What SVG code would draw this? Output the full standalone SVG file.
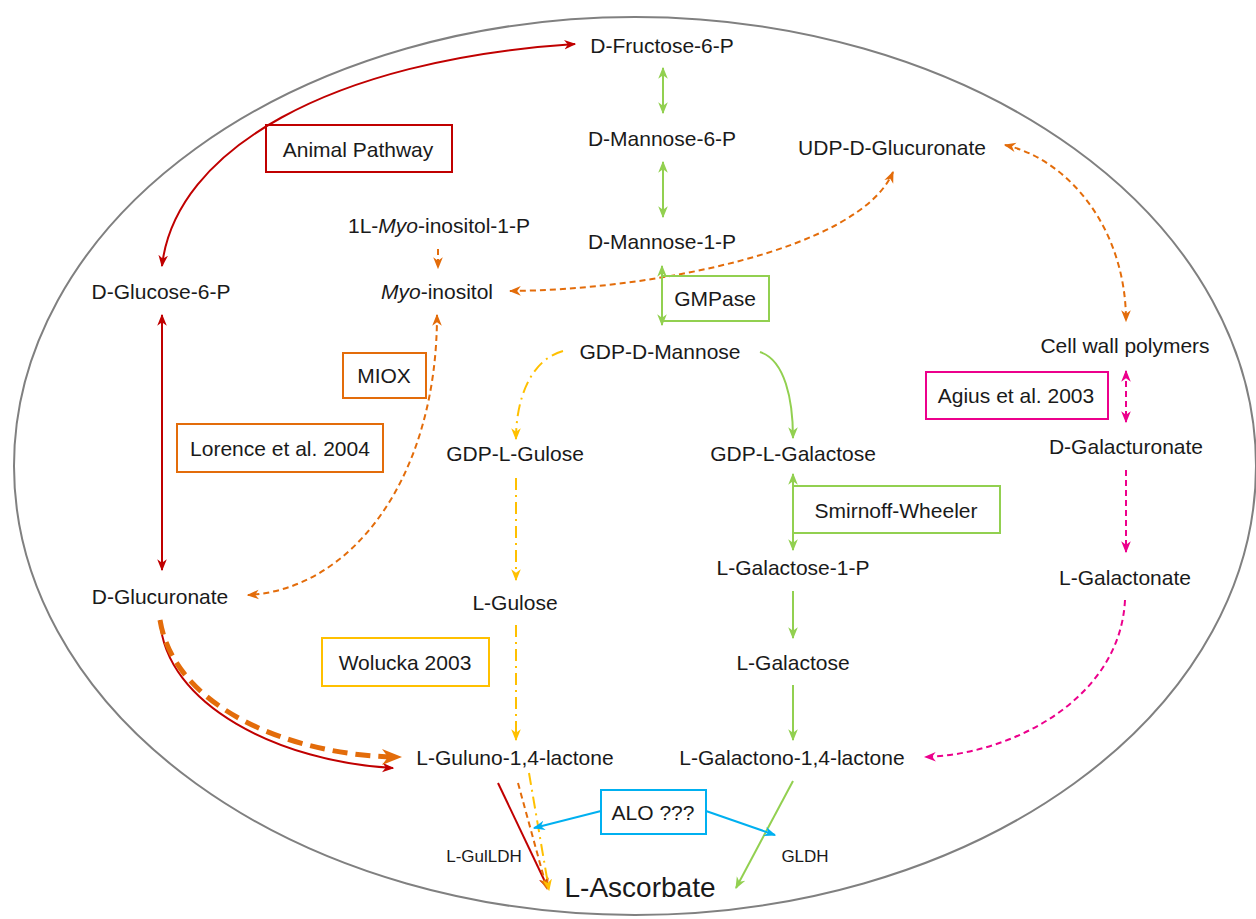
<svg xmlns="http://www.w3.org/2000/svg" width="1256" height="919" viewBox="0 0 1256 919">
<style>
text{font-family:"Liberation Sans",Arial,sans-serif;font-size:21px;fill:#1a1a1a;text-anchor:middle}
.sm{font-size:17px}
.big{font-size:28px}
.it{font-style:italic}
.box{fill:none;stroke-width:2}
.c{fill:none;stroke-width:2}
.red{stroke:#C00000}
.grn{stroke:#92D050}
.org{stroke:#E36C0A}
.yel{stroke:#FFC000}
.mag{stroke:#EC008C}
.blu{stroke:#00B0F0}
.dash{stroke-dasharray:6 4}
.dd{stroke-dasharray:12 5 2 5}
</style>
<defs>
<marker id="mr" viewBox="0 0 10 10" refX="9" refY="5" markerWidth="12" markerHeight="12" markerUnits="userSpaceOnUse" orient="auto-start-reverse"><path d="M0,1 L10,5 L0,9 L3,5 z" fill="#C00000"/></marker>
<marker id="mg" viewBox="0 0 10 10" refX="9" refY="5" markerWidth="12" markerHeight="12" markerUnits="userSpaceOnUse" orient="auto-start-reverse"><path d="M0,1 L10,5 L0,9 L3,5 z" fill="#92D050"/></marker>
<marker id="mo" viewBox="0 0 10 10" refX="9" refY="5" markerWidth="12" markerHeight="12" markerUnits="userSpaceOnUse" orient="auto-start-reverse"><path d="M0,1 L10,5 L0,9 L3,5 z" fill="#E36C0A"/></marker>
<marker id="mob" viewBox="0 0 10 10" refX="9" refY="5" markerWidth="20" markerHeight="20" markerUnits="userSpaceOnUse" orient="auto-start-reverse"><path d="M0,1 L10,5 L0,9 L3,5 z" fill="#E36C0A"/></marker>
<marker id="my" viewBox="0 0 10 10" refX="9" refY="5" markerWidth="12" markerHeight="12" markerUnits="userSpaceOnUse" orient="auto-start-reverse"><path d="M0,1 L10,5 L0,9 L3,5 z" fill="#FFC000"/></marker>
<marker id="mm" viewBox="0 0 10 10" refX="9" refY="5" markerWidth="12" markerHeight="12" markerUnits="userSpaceOnUse" orient="auto-start-reverse"><path d="M0,1 L10,5 L0,9 L3,5 z" fill="#EC008C"/></marker>
<marker id="mb" viewBox="0 0 10 10" refX="9" refY="5" markerWidth="12" markerHeight="12" markerUnits="userSpaceOnUse" orient="auto-start-reverse"><path d="M0,1 L10,5 L0,9 L3,5 z" fill="#00B0F0"/></marker>
</defs>
<rect width="1256" height="919" fill="#fff"/>
<ellipse id="cell" cx="635" cy="466" rx="621" ry="449" fill="none" stroke="#808080" stroke-width="2"/>

<g id="connectors">
<!-- animal pathway (red) -->
<path class="c red" d="M162,266 C175,150 330,60 575,44" marker-start="url(#mr)" marker-end="url(#mr)"/>
<path class="c red" d="M162,315 L162,570" marker-start="url(#mr)" marker-end="url(#mr)"/>
<path class="c red" d="M160,620 C165,705 280,762 393,768" marker-end="url(#mr)"/>
<path class="c red" d="M498,783 L548,888" marker-end="url(#mr)"/>
<!-- orange (Lorence / myo-inositol) -->
<path class="c org" d="M160,620 C175,712 300,757 400,757" style="stroke-width:5;stroke-dasharray:15 8" marker-end="url(#mob)"/>
<path class="c org dash" d="M437,315 C437,480 350,590 248,595" marker-start="url(#mo)" marker-end="url(#mo)"/>
<path class="c org dash" d="M438,249 L438,268" marker-end="url(#mo)"/>
<path class="c org dash" d="M510,291 C650,290 860,250 893,172" marker-start="url(#mo)" marker-end="url(#mo)"/>
<path class="c org dash" d="M1005,145 C1070,160 1126,230 1126,321" marker-start="url(#mo)" marker-end="url(#mo)"/>
<path class="c org dash" d="M518,783 L547,889" marker-end="url(#mo)"/>
<!-- green (Smirnoff-Wheeler) -->
<path class="c grn" d="M663,68 L663,113" marker-start="url(#mg)" marker-end="url(#mg)"/>
<path class="c grn" d="M663,162 L663,217" marker-start="url(#mg)" marker-end="url(#mg)"/>
<path class="c grn" d="M662,266 L662,325" marker-start="url(#mg)" marker-end="url(#mg)"/>
<path class="c grn" d="M760,352 C785,360 793,400 793,438" marker-end="url(#mg)"/>
<path class="c grn" d="M793,474 L793,550" marker-start="url(#mg)" marker-end="url(#mg)"/>
<path class="c grn" d="M793,591 L793,638" marker-end="url(#mg)"/>
<path class="c grn" d="M793,685 L793,740" marker-end="url(#mg)"/>
<path class="c grn" d="M793,781 L736,888" marker-end="url(#mg)"/>
<!-- yellow (Wolucka) -->
<path class="c yel dd" d="M563,351 C530,360 516,400 516,439" marker-end="url(#my)"/>
<path class="c yel dd" d="M516,478 L516,580" marker-end="url(#my)"/>
<path class="c yel dd" d="M516,625 L516,740" marker-end="url(#my)"/>
<path class="c yel dd" d="M529,773 L549,890" marker-end="url(#my)"/>
<!-- magenta (Agius) -->
<path class="c mag dash" d="M1126,371 L1126,422" marker-start="url(#mm)" marker-end="url(#mm)"/>
<path class="c mag dash" d="M1126,470 L1126,552" marker-end="url(#mm)"/>
<path class="c mag dash" d="M1125,600 C1120,700 1010,755 925,757" marker-end="url(#mm)"/>
<!-- blue (ALO) -->
<path class="c blu" d="M601,811 L534,828" marker-end="url(#mb)"/>
<path class="c blu" d="M706,811 L775,835" marker-end="url(#mb)"/>
</g>

<g id="n-fructose6p"><text x="662" y="53">D-Fructose-6-P</text></g>
<g id="n-mannose6p"><text x="662" y="146">D-Mannose-6-P</text></g>
<g id="n-udpglucuronate"><text x="892" y="155">UDP-D-Glucuronate</text></g>
<g id="n-myoinositol1p"><text x="439" y="233">1L-<tspan class="it">Myo</tspan>-inositol-1-P</text></g>
<g id="n-mannose1p"><text x="662" y="249">D-Mannose-1-P</text></g>
<g id="n-glucose6p"><text x="161" y="299">D-Glucose-6-P</text></g>
<g id="n-myoinositol"><text x="437" y="299"><tspan class="it">Myo</tspan>-inositol</text></g>
<g id="n-gdpmannose"><text x="660" y="359">GDP-D-Mannose</text></g>
<g id="n-cellwall"><text x="1125" y="353">Cell wall polymers</text></g>
<g id="n-gdpgulose"><text x="515" y="461">GDP-L-Gulose</text></g>
<g id="n-gdpgalactose"><text x="793" y="461">GDP-L-Galactose</text></g>
<g id="n-galacturonate"><text x="1126" y="454">D-Galacturonate</text></g>
<g id="n-galactose1p"><text x="793" y="575">L-Galactose-1-P</text></g>
<g id="n-galactonate"><text x="1125" y="585">L-Galactonate</text></g>
<g id="n-glucuronate"><text x="160" y="604">D-Glucuronate</text></g>
<g id="n-gulose"><text x="515" y="610">L-Gulose</text></g>
<g id="n-galactose"><text x="793" y="670">L-Galactose</text></g>
<g id="n-gulonolactone"><text x="515" y="765">L-Guluno-1,4-lactone</text></g>
<g id="n-galactonolactone"><text x="792" y="765">L-Galactono-1,4-lactone</text></g>
<g id="n-ascorbate"><text class="big" x="640" y="897">L-Ascorbate</text></g>
<g id="e-gulldh"><text class="sm" x="484" y="862">L-GulLDH</text></g>
<g id="e-gldh"><text class="sm" x="805" y="862">GLDH</text></g>

<g id="b-animal"><rect class="box red" x="266" y="125" width="186" height="47"/><text x="358" y="157">Animal Pathway</text></g>
<g id="b-gmpase"><rect class="box grn" x="662" y="276" width="107" height="45"/><text x="715" y="306">GMPase</text></g>
<g id="b-miox"><rect class="box org" x="343" y="353" width="83" height="45"/><text x="384" y="383">MIOX</text></g>
<g id="b-agius"><rect class="box mag" x="926" y="372" width="182" height="47"/><text x="1016" y="403">Agius et al. 2003</text></g>
<g id="b-lorence"><rect class="box org" x="177" y="424" width="206" height="48"/><text x="280" y="456">Lorence et al. 2004</text></g>
<g id="b-smirnoff"><rect class="box grn" x="793" y="486" width="207" height="47"/><text x="896" y="518">Smirnoff-Wheeler</text></g>
<g id="b-wolucka"><rect class="box yel" x="322" y="638" width="167" height="48"/><text x="405" y="670">Wolucka 2003</text></g>
<g id="b-alo"><rect class="box blu" x="601" y="790" width="105" height="44"/><text x="653" y="820">ALO ???</text></g>
</svg>
